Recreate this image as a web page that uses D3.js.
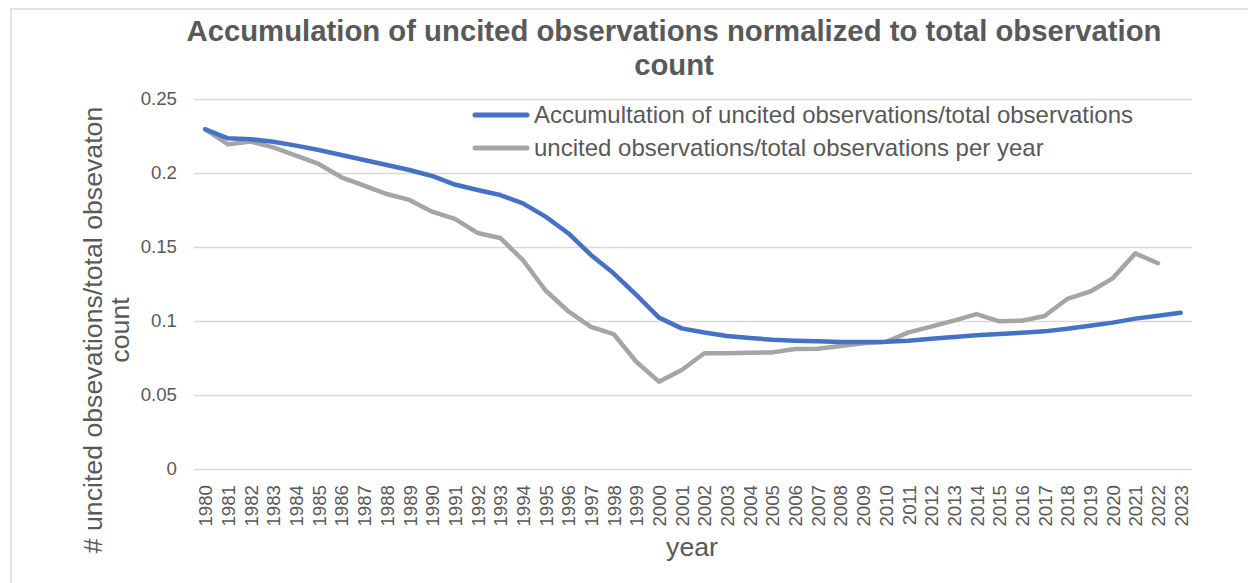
<!DOCTYPE html>
<html>
<head>
<meta charset="utf-8">
<script src="https://cdn.jsdelivr.net/npm/d3@7"></script>
<style>
  body { margin: 0; background: #fff; }
  text { font-family: "Liberation Sans", Arial, sans-serif; fill: #595959; }
</style>
</head>
<body>
<script>
var width = 1248, height = 583;

// categories
var years = d3.range(1980, 2024);

// accumulated uncited / total
var accumulated = [0.2295, 0.2234, 0.2228, 0.2211, 0.2185, 0.2155, 0.2122, 0.2088, 0.2054, 0.2020,
    0.1980, 0.1922, 0.1885, 0.1851, 0.1795, 0.1705, 0.1593, 0.1446, 0.1322, 0.1176,
    0.1023, 0.0950, 0.0922, 0.0899, 0.0885, 0.0874, 0.0867, 0.0863, 0.0858, 0.0858,
    0.0860, 0.0867, 0.0880, 0.0892, 0.0903, 0.0912, 0.0921, 0.0930, 0.0948, 0.0968,
    0.0989, 0.1016, 0.1036, 0.1056];

// uncited / total per year (no 2023 value)
var perYear = [0.2295, 0.2194, 0.2212, 0.2173, 0.2117, 0.2061, 0.1971, 0.1914, 0.1858, 0.1818,
    0.1739, 0.1690, 0.1595, 0.1561, 0.1412, 0.1206, 0.1066, 0.0960, 0.0912, 0.0725,
    0.0590, 0.0669, 0.0782, 0.0782, 0.0786, 0.0788, 0.0811, 0.0813, 0.0831, 0.0849,
    0.0858, 0.0923, 0.0962, 0.1003, 0.1047, 0.0998, 0.1002, 0.1034, 0.1149, 0.1198,
    0.1288, 0.1457, 0.1390, null];

var yTicks = [0, 0.05, 0.1, 0.15, 0.2, 0.25];
var yTickLabels = ["0", "0.05", "0.1", "0.15", "0.2", "0.25"];

var seriesNames = ["Accumultation of uncited observations/total observations",
    "uncited observations/total observations per year"];
var seriesColors = ["#4472C4", "#A5A5A5"];

var plot = { left: 194, right: 1192, top: 99, bottom: 469 };

var svg = d3.select('body').append('svg').attr('width', width).attr('height', height);

// outer chart frame
svg.append('rect')
    .attr('x', 11).attr('y', 9)
    .attr('width', 1300).attr('height', 700)
    .attr('fill', 'none')
    .attr('stroke', '#D9D9D9')
    .attr('stroke-width', 1.5);

var x = d3.scalePoint().domain(years).range([plot.left, plot.right]).padding(0.5);
var y = d3.scaleLinear().domain([0, 0.25]).range([plot.bottom, plot.top]);

// gridlines + y labels
var yAxis = svg.append('g')
    .attr('transform', 'translate(' + plot.left + ',0)')
    .call(d3.axisLeft(y)
        .tickValues(yTicks)
        .tickSize(-(plot.right - plot.left))
        .tickPadding(17)
        .tickFormat(function (d, i) { return yTickLabels[i] }));
yAxis.select('.domain').remove();
yAxis.selectAll('line').attr('stroke', '#D9D9D9').attr('stroke-width', 1.3);
yAxis.selectAll('text')
    .attr('font-size', 18.7)
    .style('font-family', '"Liberation Sans", Arial, sans-serif')
    .attr('fill', '#595959');

// x labels
var xAxis = svg.append('g')
    .attr('transform', 'translate(0,' + plot.bottom + ')')
    .call(d3.axisBottom(x).tickSize(0));
xAxis.select('.domain').remove();
xAxis.selectAll('text')
    .attr('font-size', 18.7)
    .style('font-family', '"Liberation Sans", Arial, sans-serif')
    .attr('fill', '#595959')
    .attr('text-anchor', 'end')
    .attr('transform', 'rotate(-90)')
    .attr('x', -16)
    .attr('y', 0)
    .attr('dy', '0.35em');

// lines
var line = d3.line()
    .defined(function (d) { return d != null })
    .x(function (d, i) { return x(years[i]) })
    .y(function (d) { return y(d) });

[perYear, accumulated].forEach(function (values, k) {
    svg.append('path')
        .datum(values)
        .attr('fill', 'none')
        .attr('stroke', k == 0 ? seriesColors[1] : seriesColors[0])
        .attr('stroke-width', 4.5)
        .attr('stroke-linejoin', 'round')
        .attr('stroke-linecap', 'round')
        .attr('d', line);
});

// legend
var legend = svg.append('g').selectAll('g')
    .data(seriesNames)
    .enter().append('g')
    .attr('transform', function (d, i) { return 'translate(475,' + (115 + i * 33) + ')' });
legend.append('line')
    .attr('x1', 0).attr('x2', 52)
    .attr('stroke', function (d, i) { return seriesColors[i] })
    .attr('stroke-width', 5)
    .attr('stroke-linecap', 'round');
legend.append('text')
    .attr('x', 59)
    .attr('dy', '0.35em')
    .attr('font-size', 24)
    .text(function (d) { return d });

// title
var title = svg.append('text')
    .attr('text-anchor', 'middle')
    .attr('font-size', 29.3)
    .attr('font-weight', 'bold');
title.append('tspan').attr('x', 674).attr('y', 41)
    .text('Accumulation of uncited observations normalized to total observation');
title.append('tspan').attr('x', 674).attr('y', 75).text('count');

// axis titles
svg.append('text')
    .attr('x', 692).attr('y', 556)
    .attr('text-anchor', 'middle')
    .attr('font-size', 26.7)
    .text('year');

var yTitle = svg.append('text')
    .attr('transform', 'translate(0,330) rotate(-90)')
    .attr('text-anchor', 'middle')
    .attr('font-size', 26.7);
yTitle.append('tspan').attr('x', 0).attr('y', 102).text('# uncited obsevations/total obsevaton');
yTitle.append('tspan').attr('x', 0).attr('y', 129).text('count');
</script>
</body>
</html>
